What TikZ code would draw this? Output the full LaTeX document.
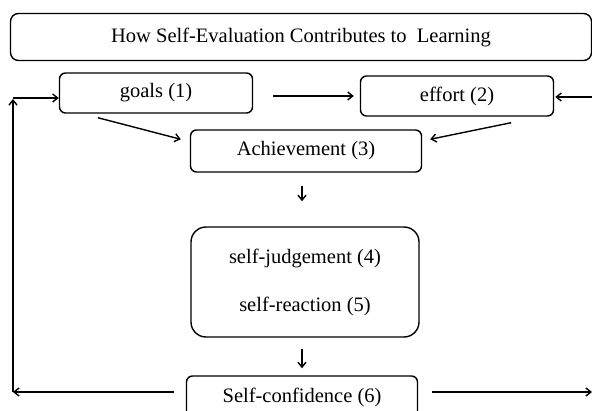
\documentclass[tikz,border=0pt]{standalone}
\usepackage{fontspec}
\setmainfont{Liberation Serif}
\usetikzlibrary{arrows.meta}

\begin{document}
\begin{tikzpicture}[
  x=1pt, y=-1pt, >={Straight Barb[length=5pt,width=8pt]},
  font=\fontsize{20.5}{24}\selectfont,
  head/.style ={draw, rounded corners=8pt, line width=1.4pt,
                minimum width=581pt, minimum height=47pt},
  stage/.style={draw, rounded corners=6pt, line width=1.4pt, align=center,
                minimum width=193pt, minimum height=40pt},
  mid/.style  ={draw, rounded corners=6pt, line width=1.4pt, align=center,
                minimum width=231pt, minimum height=42pt},
  judge/.style={draw, rounded corners=15pt, line width=1.4pt, align=center,
                minimum width=228pt, minimum height=110pt},
  link/.style ={->, line width=1.4pt},
]
\useasboundingbox (0,0) rectangle (592,411);

% Title bar
\node[head] (title) at (301,37) {How Self-Evaluation Contributes to~ Learning};

% Top row
\node[stage] (goals)  at (156,93) {goals (1)};
\node[stage] (effort) at (457,96) {effort (2)};

% Middle column -- the last box runs off the bottom edge
\node[mid]   (ach)  at (306,151) {Achievement (3)};
\node[judge] (self) at (305,282) {self-judgement (4)\\[24pt]self-reaction (5)};
\node[mid]   (conf) at (302,397) {Self-confidence (6)};

% Loose ends at the picture border
\coordinate (lcorner) at (13,392);
\coordinate (ltop)    at (13,98);
\coordinate (redge)   at (592,97);
\coordinate (rout)    at (592,392);

% Forward arrows
\draw[link, shorten <=20pt, shorten >=6pt] (goals.east |- effort.west) -- (effort.west);
\draw[link] ([xshift=39pt,yshift=-4pt]goals.south west) -- ([xshift=-9pt,yshift=-10pt]ach.north west);
\draw[link] ([xshift=-43pt,yshift=-6pt]effort.south east) -- ([xshift=8pt,yshift=-10pt]ach.north east);
\draw[link, shorten <=13pt, shorten >=25pt] (ach.south -| conf.north) -- (self.north -| conf.north);
\draw[link, shorten <=11pt, shorten >=7pt] (self.south -| conf.north) -- (conf.north);

% Feedback loops
\draw[link, shorten <=12pt] (conf.west |- lcorner) -- (lcorner);
\draw[link, shorten >=1pt] (lcorner) -- (ltop);
\draw[link] (ltop) -- (ltop -| goals.west);
\draw[link, shorten >=1pt] (redge) -- (redge -| effort.east);
\draw[link, shorten <=14pt] (conf.east |- rout) -- (rout);
\end{tikzpicture}
\end{document}
